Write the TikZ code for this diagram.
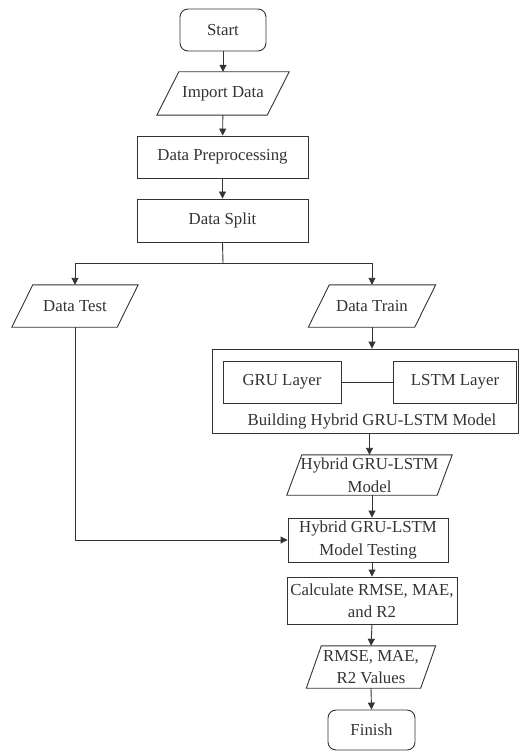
\documentclass[tikz,border=0pt]{standalone}
\usepackage{fontspec}
\setmainfont{Liberation Serif}
\usetikzlibrary{arrows.meta,calc}
\tikzset{
  x=1pt,y=-1pt,
  every node/.style={font=\fontsize{16.8}{22.5}\selectfont, text=black!80, align=center, inner sep=0pt},
  box/.style={draw=black!80, line width=0.9pt, rectangle},
  rbox/.style={box, rounded corners=8pt},
  txt/.style={rectangle},
  line/.style={draw=black!80, line width=0.9pt},
  arr/.style={line, -{Triangle[length=7pt,width=7pt]}},
}
% parallelogram: name, cx, cy, edge width, height, slant, text
\newcommand{\mypara}[7]{%
  \node[txt, minimum width=#4, minimum height=#5] (#1) at (#2,#3) {#7};
  \draw[line, line join=miter] ([xshift=#6/2]#1.north west) -- ([xshift=#6/2]#1.north east)
     -- ([xshift=-#6/2]#1.south east) -- ([xshift=-#6/2]#1.south west) -- cycle;
}
\begin{document}
\begin{tikzpicture}
\useasboundingbox (0,0) rectangle (519,751);
\fill[white] (0,0) rectangle (519,751);

\node[rbox, minimum width=86pt, minimum height=42pt] (start) at (223,30) {Start};
\mypara{import}{223}{93.5}{110pt}{43pt}{22pt}{Import Data}
\node[box, minimum width=171pt, minimum height=42pt] (prep) at (222.5,157) {Data Preprocessing};
\node[box, minimum width=171pt, minimum height=43pt] (split) at (222.5,220.5) {Data Split};

\mypara{test}{75}{306}{105pt}{42pt}{21pt}{Data Test}
\mypara{train}{372}{306}{106pt}{42pt}{21pt}{Data Train}

\node[box, minimum width=306pt, minimum height=84pt] (build) at (365,391) {};
\node[box, minimum width=118pt, minimum height=42pt] (gru) at (282,382) {GRU Layer};
\node[box, minimum width=123pt, minimum height=42pt] (lstm) at (455,382) {LSTM Layer};
\node[txt] (buildlbl) at (372,421) {Building Hybrid GRU-LSTM Model};

\mypara{model}{369.5}{475}{150pt}{40pt}{15pt}{Hybrid GRU-LSTM\\Model}
\node[box, minimum width=160pt, minimum height=44pt] (testing) at (368,540) {Hybrid GRU-LSTM\\Model Testing};
\node[box, minimum width=170pt, minimum height=47pt] (calc) at (372,600.5) {Calculate RMSE, MAE,\\and R2};
\mypara{rmse}{371}{667}{114pt}{42pt}{15pt}{RMSE, MAE,\\R2 Values}
\node[rbox, minimum width=87pt, minimum height=40pt] (finish) at (371.5,730) {Finish};

\coordinate (fork) at (223,263);
\draw[arr] (start) -- (import);
\draw[arr] (import) -- (prep);
\draw[arr] (prep) -- (split);
\draw[line] (split.south) -- (fork);
\draw[arr] (fork) -| (test.north);
\draw[arr] (fork) -| (train.north);
\draw[arr] (train.south) -- (train.south |- build.north);
\draw[line] (gru) -- (lstm);
\draw[arr] (build.south -| model.north) -- (model.north);
\draw[arr] (model.south -| 372,0) -- (testing.north -| 372,0);
\draw[arr] (test.south) |- (testing.west);
\draw[arr] (testing.south -| 372,0) -- (calc.north);
\draw[arr] (calc.south) -- (rmse.north);
\draw[arr] (rmse.south) -- (finish.north);
\end{tikzpicture}
\end{document}
